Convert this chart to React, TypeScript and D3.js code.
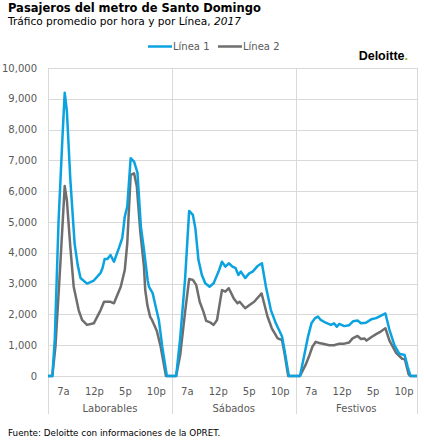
import { useEffect, useRef } from "react";
import * as d3 from "d3";

// Panels (day types) and x tick labels
const panels = ["Laborables", "Sábados", "Festivos"];
const tickHours = [7, 12, 17, 22];
const tickLabels = ["7a", "12p", "5p", "10p"];
const yTicks = [0, 1000, 2000, 3000, 4000, 5000, 6000, 7000, 8000, 9000, 10000];

// [hour of day, passengers]
const laborablesLinea1: [number, number][] = [
  [4.5, 0], [5.2, 0], [5.6, 1200], [6.2, 5000], [6.8, 7600], [7.2, 9200],
  [7.55, 8600], [8.1, 6400], [8.8, 4300], [9.3, 3600], [9.75, 3180],
  [10.8, 3000], [11.9, 3100], [13.0, 3350], [13.3, 3500], [13.65, 3800],
  [14.1, 3800], [14.6, 3930], [15.15, 3710], [15.95, 4150], [16.5, 4480],
  [16.9, 5170], [17.3, 5500], [17.85, 7070], [18.4, 6960], [18.95, 6600],
  [19.5, 4850], [20.0, 4100], [20.6, 3100], [20.8, 2900], [21.4, 2690],
  [21.9, 2250], [22.4, 1820], [22.75, 1280], [22.95, 950], [23.7, 0], [24.5, 0],
];
const laborablesLinea2: [number, number][] = [
  [4.5, 0], [5.2, 0], [5.7, 950], [6.5, 3660], [7.2, 6170], [7.55, 5700],
  [8.1, 4200], [8.65, 2900], [9.45, 2140], [10.0, 1820], [10.8, 1660],
  [11.9, 1710], [13.0, 2140], [13.55, 2410], [14.6, 2410], [15.15, 2360],
  [15.7, 2630], [16.25, 2900], [16.9, 3440], [17.3, 4300], [17.85, 6530],
  [18.4, 6580], [18.85, 6150], [19.4, 4700], [20.0, 3550], [20.2, 2800],
  [20.55, 2300], [21.0, 1920], [21.3, 1820], [22.1, 1450], [22.7, 950],
  [23.55, 0], [24.5, 0],
];
const sabadosLinea1: [number, number][] = [
  [4.5, 0], [5.2, 0], [5.85, 1230], [6.65, 3180], [7.3, 5360], [7.9, 5230],
  [8.3, 4800], [8.8, 3770], [9.35, 3280], [9.9, 3010], [10.6, 2900],
  [11.25, 3010], [12.05, 3390], [12.6, 3710], [13.15, 3550], [13.7, 3660],
  [14.3, 3550], [14.8, 3500], [15.25, 3280], [15.65, 3390], [16.35, 3180],
  [17.0, 3330], [17.55, 3390], [18.35, 3570], [19.05, 3660], [19.7, 2900],
  [20.5, 2140], [21.3, 1710], [22.3, 1280], [22.7, 840], [23.4, 0], [24.5, 0],
];
const sabadosLinea2: [number, number][] = [
  [4.5, 0], [5.2, 0], [5.85, 680], [6.65, 2090], [7.3, 3150], [7.9, 3120],
  [8.45, 2950], [9.0, 2410], [9.6, 2090], [10.05, 1790], [10.7, 1740],
  [11.25, 1660], [11.8, 1820], [12.6, 2790], [13.15, 2740], [13.7, 2850],
  [14.5, 2520], [15.1, 2360], [15.45, 2410], [16.35, 2200], [17.0, 2300],
  [17.8, 2410], [19.0, 2680], [19.95, 1930], [20.65, 1550], [21.6, 1220],
  [22.3, 1170], [22.7, 740], [23.3, 0], [24.5, 0],
];
const festivosLinea1: [number, number][] = [
  [4.5, 0], [5.2, 0], [5.85, 630], [6.5, 1280], [7.05, 1710], [7.6, 1870],
  [8.1, 1930], [8.55, 1820], [9.35, 1730], [10.2, 1660], [10.7, 1710],
  [11.15, 1600], [11.55, 1690], [12.35, 1620], [13.15, 1650], [13.8, 1780],
  [14.5, 1800], [15.05, 1710], [15.85, 1730], [16.7, 1840], [17.5, 1880],
  [18.3, 1960], [19.0, 2030], [19.65, 1500], [20.45, 1000], [21.25, 720],
  [22.1, 680], [22.6, 300], [23.05, 0], [24.1, 0],
];
const festivosLinea2: [number, number][] = [
  [4.5, 0], [5.2, 0], [6.1, 360], [6.65, 630], [7.2, 950], [7.75, 1110],
  [8.3, 1070], [9.1, 1040], [9.9, 1000], [10.7, 1000], [11.55, 1050],
  [12.35, 1050], [13.15, 1090], [13.7, 1220], [14.5, 1300], [15.05, 1200],
  [15.6, 1220], [15.95, 1150], [16.7, 1260], [17.5, 1360], [18.3, 1450],
  [19.0, 1550], [19.65, 1150], [20.75, 740], [21.7, 560], [22.15, 540],
  [22.75, 50], [23.0, 0], [24.1, 0],
];

const linea1 = [laborablesLinea1, sabadosLinea1, festivosLinea1];
const linea2 = [laborablesLinea2, sabadosLinea2, festivosLinea2];

const BLUE = "#0AA3DF";
const GREY = "#6E6E6E";
const GRID = "#D9D9D9";
const FONT = "'DejaVu Sans', Verdana, sans-serif";

export default function App() {
  const svgRef = useRef<SVGSVGElement>(null);

  useEffect(() => {
    if (!svgRef.current) return;
    const svg = d3.select(svgRef.current);
    svg.selectAll("*").remove();

    const hourStart = 4.5;
    const hoursPerPanel = 20;
    const left = 48;
    const right = 417;
    const top = 68;
    const bottom = 376;

    // panel index + hour -> continuous position
    const pos = (panel: number, h: number) =>
      panel * hoursPerPanel + (h - hourStart);
    const x = d3
      .scaleLinear()
      .domain([0, pos(2, 24.1)])
      .range([left, right]);
    const y = d3.scaleLinear().domain([0, 10000]).range([bottom, top]);

    // Title
    svg
      .append("text")
      .attr("x", 8)
      .attr("y", 12)
      .attr("font-family", FONT)
      .attr("font-size", 11.5)
      .attr("font-weight", "bold")
      .attr("fill", "#000")
      .text("Pasajeros del metro de Santo Domingo");

    const sub = svg
      .append("text")
      .attr("x", 8)
      .attr("y", 25)
      .attr("font-family", FONT)
      .attr("font-size", 10.6)
      .attr("fill", "#000");
    sub.append("tspan").text("Tráfico promedio por hora y por Línea, ");
    sub.append("tspan").attr("font-style", "italic").text("2017");

    // Deloitte logo
    const logo = svg
      .append("text")
      .attr("x", 408)
      .attr("y", 60)
      .attr("text-anchor", "end")
      .attr("font-family", "'Liberation Sans', Arial, sans-serif")
      .attr("font-size", 12.5)
      .attr("font-weight", "bold")
      .attr("fill", "#000");
    logo.append("tspan").text("Deloitte");
    logo.append("tspan").attr("fill", "#86BC25").text(".");

    // Legend
    const legend = [
      { label: "Línea 1", color: BLUE, x: 148 },
      { label: "Línea 2", color: GREY, x: 218 },
    ];
    legend.forEach((d) => {
      svg
        .append("line")
        .attr("x1", d.x)
        .attr("x2", d.x + 24)
        .attr("y1", 46.5)
        .attr("y2", 46.5)
        .attr("stroke", d.color)
        .attr("stroke-width", 2.5);
      svg
        .append("text")
        .attr("x", d.x + 25)
        .attr("y", 50)
        .attr("font-family", FONT)
        .attr("font-size", 10)
        .attr("fill", "#595959")
        .text(d.label);
    });

    // Horizontal gridlines + y labels
    svg
      .append("g")
      .selectAll("line")
      .data(yTicks)
      .enter()
      .append("line")
      .attr("x1", left)
      .attr("x2", right)
      .attr("y1", (d) => Math.round(y(d)) + 0.5)
      .attr("y2", (d) => Math.round(y(d)) + 0.5)
      .attr("stroke", GRID)
      .attr("stroke-width", 1);

    svg
      .append("g")
      .selectAll("text")
      .data(yTicks)
      .enter()
      .append("text")
      .attr("x", 37)
      .attr("y", (d) => y(d) + 3.5)
      .attr("text-anchor", "end")
      .attr("font-family", FONT)
      .attr("font-size", 10)
      .attr("fill", "#595959")
      .text((d) => d3.format(",")(d));

    // Panel separators
    const edges = [pos(0, hourStart), pos(1, hourStart), pos(2, hourStart), pos(2, 24.1)];
    svg
      .append("g")
      .selectAll("line")
      .data(edges)
      .enter()
      .append("line")
      .attr("x1", (d) => Math.round(x(d)) + 0.5)
      .attr("x2", (d) => Math.round(x(d)) + 0.5)
      .attr("y1", top)
      .attr("y2", 414)
      .attr("stroke", GRID)
      .attr("stroke-width", 1);

    // X tick labels and panel labels
    panels.forEach((name, i) => {
      tickHours.forEach((h, j) => {
        svg
          .append("text")
          .attr("x", x(pos(i, h)))
          .attr("y", 395)
          .attr("text-anchor", "middle")
          .attr("font-family", FONT)
          .attr("font-size", 10)
          .attr("fill", "#595959")
          .text(tickLabels[j]);
      });
      svg
        .append("text")
        .attr("x", (x(edges[i]) + x(edges[i + 1])) / 2)
        .attr("y", 412)
        .attr("text-anchor", "middle")
        .attr("font-family", FONT)
        .attr("font-size", 10)
        .attr("fill", "#595959")
        .text(name);
    });

    // Lines
    const line = (panel: number) =>
      d3
        .line<[number, number]>()
        .x((d) => x(pos(panel, d[0])))
        .y((d) => y(d[1]));

    [
      { series: linea2, color: GREY },
      { series: linea1, color: BLUE },
    ].forEach(({ series, color }) => {
      series.forEach((pts, i) => {
        svg
          .append("path")
          .datum(pts)
          .attr("fill", "none")
          .attr("stroke", color)
          .attr("stroke-width", 2.5)
          .attr("stroke-linejoin", "round")
          .attr("d", line(i));
      });
    });

    // Source
    svg
      .append("text")
      .attr("x", 8)
      .attr("y", 436)
      .attr("font-family", FONT)
      .attr("font-size", 8.8)
      .attr("fill", "#000")
      .text("Fuente: Deloitte con informaciones de la OPRET.");
  }, []);

  return (
    <svg
      ref={svgRef}
      width={424}
      height={440}
      style={{ position: "absolute", left: 0, top: 0, background: "#fff" }}
    />
  );
}
